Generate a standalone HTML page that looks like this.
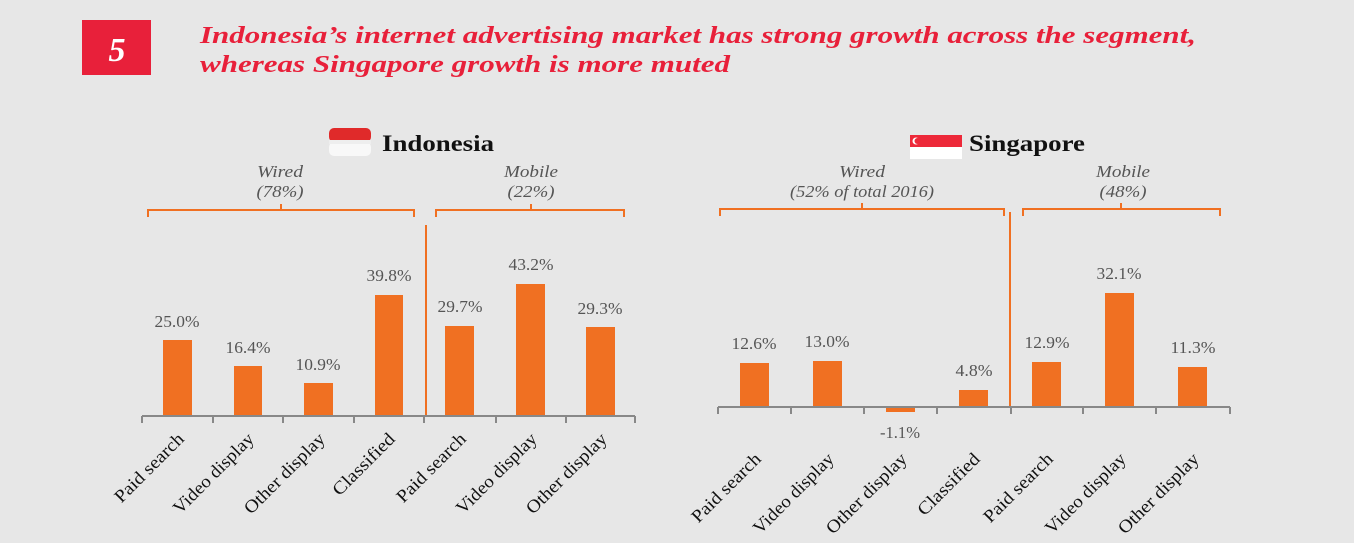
<!DOCTYPE html>
<html><head><meta charset="utf-8"><style>
html,body{margin:0;padding:0;background:#e7e7e7;}
svg{display:block;}
text{font-family:"Liberation Serif",serif;}
</style></head><body>
<svg width="1354" height="543" viewBox="0 0 1354 543" xmlns="http://www.w3.org/2000/svg">
<rect width="1354" height="543" fill="#e7e7e7"/>
<rect x="82" y="20" width="69" height="55" fill="#e8203a"/>
<text x="117" y="61" font-size="34" font-weight="bold" font-style="italic" fill="#fff" text-anchor="middle">5</text>
<text x="200" y="43" font-size="24" font-weight="bold" font-style="italic" fill="#e8203a" textLength="996" lengthAdjust="spacingAndGlyphs">Indonesia’s internet advertising market has strong growth across the segment,</text>
<text x="200" y="72" font-size="24" font-weight="bold" font-style="italic" fill="#e8203a" textLength="530" lengthAdjust="spacingAndGlyphs">whereas Singapore growth is more muted</text>

<!-- Indonesia -->
<rect x="329" y="128" width="42" height="14" rx="5" fill="#e02a2a"/>
<rect x="329" y="142" width="42" height="14" rx="5" fill="#f8f8f8"/>
<rect x="329" y="140" width="42" height="4" fill="#eee"/>
<text x="382" y="151" font-size="23" font-weight="bold" fill="#111" textLength="112" lengthAdjust="spacingAndGlyphs">Indonesia</text>
<g font-size="17" font-style="italic" fill="#555" text-anchor="middle">
<text x="280" y="177" textLength="46" lengthAdjust="spacingAndGlyphs">Wired</text><text x="280" y="197" textLength="47" lengthAdjust="spacingAndGlyphs">(78%)</text>
<text x="531" y="177" textLength="54" lengthAdjust="spacingAndGlyphs">Mobile</text><text x="531" y="197" textLength="47" lengthAdjust="spacingAndGlyphs">(22%)</text>
</g>
<g stroke="#f07022" stroke-width="2" fill="none">
<path d="M148 217 V210 H414 V217 M281 210 V204"/>
<path d="M436 217 V210 H624 V217 M531 210 V204"/>
<path d="M426 225 V416"/>
</g>
<g fill="#f07022">
<rect x="163" y="340" width="29" height="76"/>
<rect x="234" y="366" width="28" height="50"/>
<rect x="304" y="383" width="29" height="33"/>
<rect x="375" y="295" width="28" height="121"/>
<rect x="445" y="326" width="29" height="90"/>
<rect x="516" y="284" width="29" height="132"/>
<rect x="586" y="327" width="29" height="89"/>
</g>
<g stroke="#888" stroke-width="2" fill="none">
<path d="M142 416 H635"/>
<path d="M142 416 v7 M213 416 v7 M283 416 v7 M354 416 v7 M424 416 v7 M496 416 v7 M566 416 v7 M635 416 v7"/>
</g>
<g font-size="17" fill="#555" text-anchor="middle">
<text x="177" y="327" textLength="45" lengthAdjust="spacingAndGlyphs">25.0%</text><text x="248" y="353" textLength="45" lengthAdjust="spacingAndGlyphs">16.4%</text><text x="318" y="370" textLength="45" lengthAdjust="spacingAndGlyphs">10.9%</text>
<text x="389" y="281" textLength="45" lengthAdjust="spacingAndGlyphs">39.8%</text><text x="460" y="312" textLength="45" lengthAdjust="spacingAndGlyphs">29.7%</text><text x="531" y="270" textLength="45" lengthAdjust="spacingAndGlyphs">43.2%</text><text x="600" y="314" textLength="45" lengthAdjust="spacingAndGlyphs">29.3%</text>
</g>
<g font-size="18" fill="#111" text-anchor="end">
<text transform="translate(185,440) rotate(-45)" textLength="90" lengthAdjust="spacingAndGlyphs">Paid search</text>
<text transform="translate(255,440) rotate(-45)" textLength="106" lengthAdjust="spacingAndGlyphs">Video display</text>
<text transform="translate(326,440) rotate(-45)" textLength="106" lengthAdjust="spacingAndGlyphs">Other display</text>
<text transform="translate(396,440) rotate(-45)" textLength="80" lengthAdjust="spacingAndGlyphs">Classified</text>
<text transform="translate(467,440) rotate(-45)" textLength="90" lengthAdjust="spacingAndGlyphs">Paid search</text>
<text transform="translate(538,440) rotate(-45)" textLength="106" lengthAdjust="spacingAndGlyphs">Video display</text>
<text transform="translate(608,440) rotate(-45)" textLength="106" lengthAdjust="spacingAndGlyphs">Other display</text>
</g>

<!-- Singapore -->
<rect x="910" y="135" width="52" height="12" fill="#ed2939"/>
<rect x="910" y="147" width="52" height="12" fill="#fff"/>
<circle cx="916" cy="141" r="3.5" fill="#fff"/><circle cx="917.5" cy="141" r="3" fill="#ed2939"/>
<text x="969" y="151" font-size="23" font-weight="bold" fill="#111" textLength="116" lengthAdjust="spacingAndGlyphs">Singapore</text>
<g font-size="17" font-style="italic" fill="#555" text-anchor="middle">
<text x="862" y="177" textLength="46" lengthAdjust="spacingAndGlyphs">Wired</text><text x="862" y="197" textLength="144" lengthAdjust="spacingAndGlyphs">(52% of total 2016)</text>
<text x="1123" y="177" textLength="54" lengthAdjust="spacingAndGlyphs">Mobile</text><text x="1123" y="197" textLength="47" lengthAdjust="spacingAndGlyphs">(48%)</text>
</g>
<g stroke="#f07022" stroke-width="2" fill="none">
<path d="M720 216 V209 H1004 V216 M862 209 V203"/>
<path d="M1023 216 V209 H1220 V216 M1121 209 V203"/>
<path d="M1010 212 V407"/>
</g>
<g fill="#f07022">
<rect x="740" y="363" width="29" height="44"/>
<rect x="813" y="361" width="29" height="46"/>
<rect x="886" y="407" width="29" height="5"/>
<rect x="959" y="390" width="29" height="17"/>
<rect x="1032" y="362" width="29" height="45"/>
<rect x="1105" y="293" width="29" height="114"/>
<rect x="1178" y="367" width="29" height="40"/>
</g>
<g stroke="#888" stroke-width="2" fill="none">
<path d="M718 407 H1230"/>
<path d="M718 407 v7 M791 407 v7 M864 407 v7 M937 407 v7 M1011 407 v7 M1083 407 v7 M1156 407 v7 M1230 407 v7"/>
</g>
<g font-size="17" fill="#555" text-anchor="middle">
<text x="754" y="349" textLength="45" lengthAdjust="spacingAndGlyphs">12.6%</text><text x="827" y="347" textLength="45" lengthAdjust="spacingAndGlyphs">13.0%</text><text x="900" y="438" textLength="40" lengthAdjust="spacingAndGlyphs">-1.1%</text>
<text x="974" y="376" textLength="37" lengthAdjust="spacingAndGlyphs">4.8%</text><text x="1047" y="348" textLength="45" lengthAdjust="spacingAndGlyphs">12.9%</text><text x="1119" y="279" textLength="45" lengthAdjust="spacingAndGlyphs">32.1%</text><text x="1193" y="353" textLength="45" lengthAdjust="spacingAndGlyphs">11.3%</text>
</g>
<g font-size="18" fill="#111" text-anchor="end">
<text transform="translate(762,460) rotate(-45)" textLength="90" lengthAdjust="spacingAndGlyphs">Paid search</text>
<text transform="translate(835,460) rotate(-45)" textLength="106" lengthAdjust="spacingAndGlyphs">Video display</text>
<text transform="translate(908,460) rotate(-45)" textLength="106" lengthAdjust="spacingAndGlyphs">Other display</text>
<text transform="translate(981,460) rotate(-45)" textLength="80" lengthAdjust="spacingAndGlyphs">Classified</text>
<text transform="translate(1054,460) rotate(-45)" textLength="90" lengthAdjust="spacingAndGlyphs">Paid search</text>
<text transform="translate(1127,460) rotate(-45)" textLength="106" lengthAdjust="spacingAndGlyphs">Video display</text>
<text transform="translate(1200,460) rotate(-45)" textLength="106" lengthAdjust="spacingAndGlyphs">Other display</text>
</g>
</svg>
</body></html>
